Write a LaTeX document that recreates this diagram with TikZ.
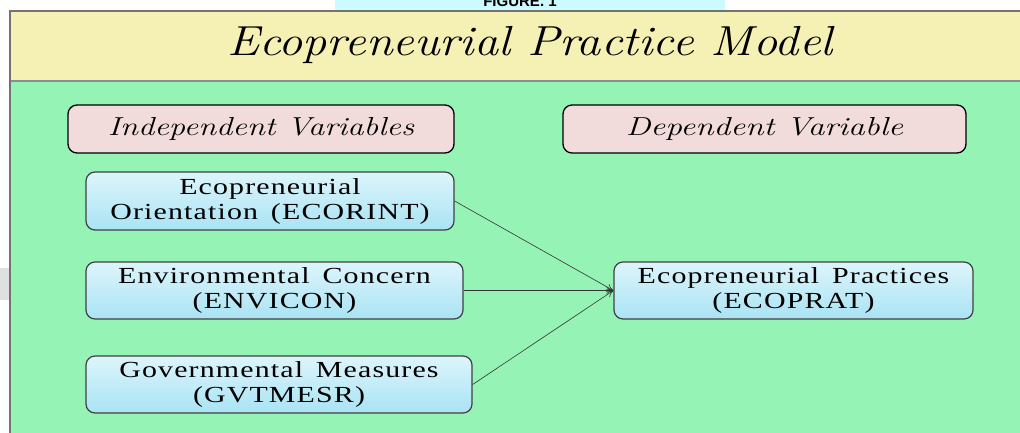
\documentclass[tikz,border=0pt]{standalone}
\usepackage{fontspec}
\usetikzlibrary{arrows.meta}
\newfontfamily\boxfont[FakeStretch=1.3,LetterSpace=5,WordSpace=1.5]{Liberation Serif}
\newfontfamily\figfont{Liberation Sans}
\definecolor{bggreen}{HTML}{95F3B6}
\definecolor{hdryellow}{HTML}{F5F0B4}
\definecolor{pinkbox}{HTML}{F2DCDB}
\definecolor{bluetop}{HTML}{DDF5FB}
\definecolor{bluebot}{HTML}{A9E3F4}
\definecolor{figcyan}{HTML}{CCFAFF}
\newcommand{\widetext}[2]{\scalebox{#1}[1]{#2}}
\tikzset{
  varlabel/.style={draw=black, line width=1.3pt, rounded corners=9pt, fill=pinkbox,
    inner sep=0pt, font=\fontsize{26}{30}\selectfont\itshape},
  bluebox/.style={draw=black!75, line width=1.2pt, rounded corners=9pt,
    top color=bluetop, bottom color=bluebot, inner sep=0pt, align=center,
    font=\boxfont\fontsize{23}{25}\selectfont},
  link/.style={draw=black!80, line width=0.6pt, -{To[length=7pt,width=7pt]}}
}
\begin{document}
\begin{tikzpicture}[x=1pt,y=-1pt]
\useasboundingbox (0,0) rectangle (1020,432);
\clip (0,0) rectangle (1020,432);
% top strip
\fill[figcyan] (335,0) rectangle (725,11);
\node[font=\figfont\bfseries\fontsize{15}{15}\selectfont, anchor=base] (fig) at (520,6) {FIGURE. 1};
\fill[black!12] (0,268) rectangle (10,300);
% frame
\fill[hdryellow] (10,11) rectangle (1024,81);
\fill[bggreen] (10,81) rectangle (1024,436);
\draw[black!45, line width=1.2pt] (10,81) -- (1024,81);
\draw[black!55, line width=1.5pt] (1024,11) -- (10,11) -- (10,436);
\node[font=\fontsize{42}{46}\selectfont\itshape] (title) at (530,45) {\widetext{1.15}{Ecopreneurial Practice Model}};
% headers
\node[varlabel, minimum width=386pt, minimum height=48pt] (indep) at (261,129) {\widetext{1.25}{Independent Variables}};
\node[varlabel, minimum width=403pt, minimum height=48pt] (dep) at (764.5,129) {\widetext{1.28}{Dependent Variable}};
% boxes
\node[bluebox, minimum width=368pt, minimum height=58pt] (ecorint) at (270,201) {Ecopreneurial\\Orientation (ECORINT)};
\node[bluebox, minimum width=377pt, minimum height=57pt] (envicon) at (274.5,290.5) {Environmental Concern\\(ENVICON)};
\node[bluebox, minimum width=386pt, minimum height=57pt] (gvt) at (279,384.5) {Governmental Measures\\(GVTMESR)};
\node[bluebox, minimum width=359pt, minimum height=57pt] (ecoprat) at (793.5,290.5) {Ecopreneurial Practices\\(ECOPRAT)};
% links
\draw[link] (ecorint.east) -- (ecoprat.west);
\draw[link] (envicon.east) -- (ecoprat.west);
\draw[link] (gvt.east) -- (ecoprat.west);
\end{tikzpicture}
\end{document}
